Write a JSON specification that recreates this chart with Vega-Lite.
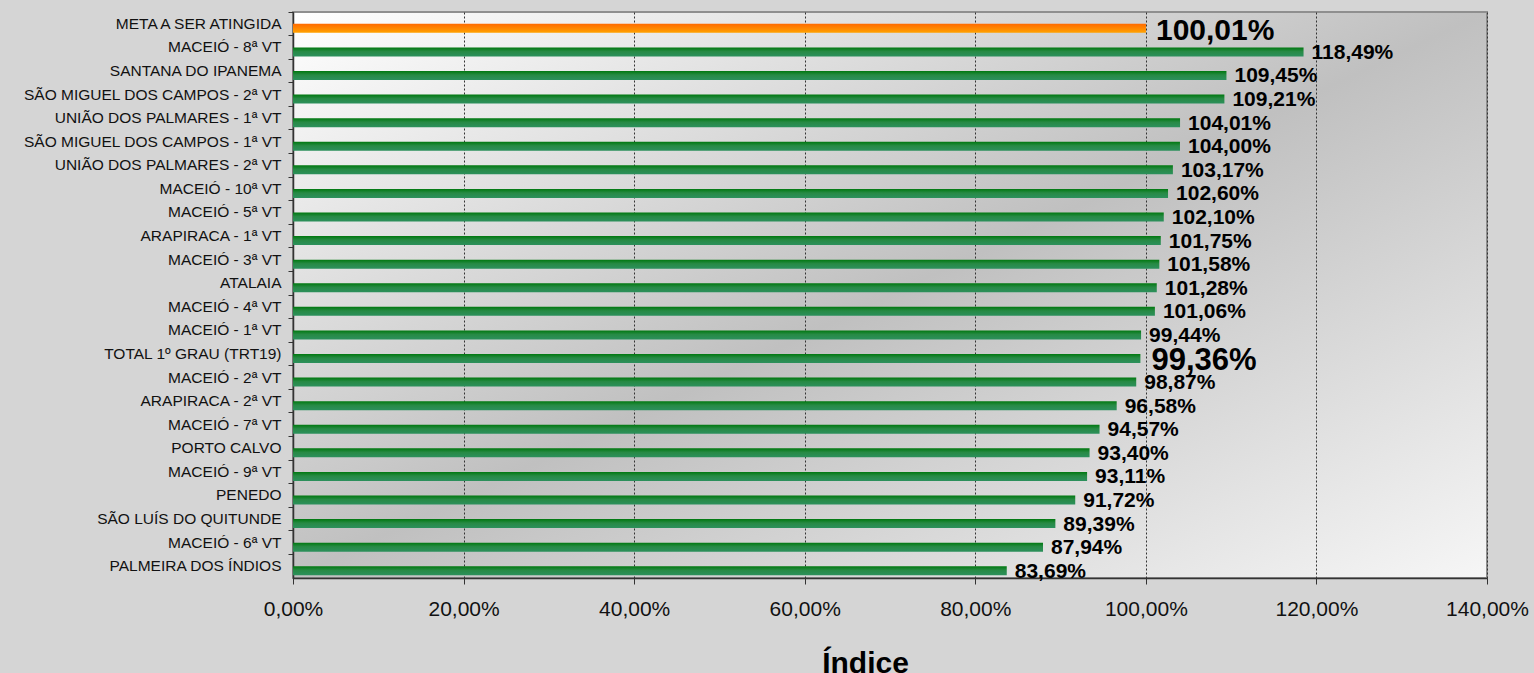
{
  "$schema": "https://vega.github.io/schema/vega-lite/v6.json",
  "autosize": {"type": "none"},
  "width": 1194,
  "height": 566,
  "padding": {"left": 293, "top": 12, "right": 47, "bottom": 95},
  "background": "#d5d5d5",
  "config": {
    "locale": {"number": {"decimal": ",", "thousands": ".", "grouping": [3], "currency": ["R$", ""]}},
    "font": "Liberation Sans",
    "view": {
      "fill": {"gradient": "linear", "x1": 0, "y1": 0, "x2": 1, "y2": 1,
        "stops": [{"offset": 0, "color": "#ffffff"}, {"offset": 0.5, "color": "#c0c0c0"}, {"offset": 1, "color": "#f6f6f6"}]},
      "stroke": "#8f8f8f",
      "strokeWidth": 2
    }
  },
  "data": {"values": [
    {"unidade": "META A SER ATINGIDA", "indice": 1.0001, "tipo": "meta"},
    {"unidade": "MACEIÓ - 8ª VT", "indice": 1.1849, "tipo": "vara"},
    {"unidade": "SANTANA DO IPANEMA", "indice": 1.0945, "tipo": "vara"},
    {"unidade": "SÃO MIGUEL DOS CAMPOS - 2ª VT", "indice": 1.0921, "tipo": "vara"},
    {"unidade": "UNIÃO DOS PALMARES - 1ª VT", "indice": 1.0401, "tipo": "vara"},
    {"unidade": "SÃO MIGUEL DOS CAMPOS - 1ª VT", "indice": 1.0400, "tipo": "vara"},
    {"unidade": "UNIÃO DOS PALMARES - 2ª VT", "indice": 1.0317, "tipo": "vara"},
    {"unidade": "MACEIÓ - 10ª VT", "indice": 1.0260, "tipo": "vara"},
    {"unidade": "MACEIÓ - 5ª VT", "indice": 1.0210, "tipo": "vara"},
    {"unidade": "ARAPIRACA - 1ª VT", "indice": 1.0175, "tipo": "vara"},
    {"unidade": "MACEIÓ - 3ª VT", "indice": 1.0158, "tipo": "vara"},
    {"unidade": "ATALAIA", "indice": 1.0128, "tipo": "vara"},
    {"unidade": "MACEIÓ - 4ª VT", "indice": 1.0106, "tipo": "vara"},
    {"unidade": "MACEIÓ - 1ª VT", "indice": 0.9944, "tipo": "vara"},
    {"unidade": "TOTAL 1º GRAU (TRT19)", "indice": 0.9936, "tipo": "total"},
    {"unidade": "MACEIÓ - 2ª VT", "indice": 0.9887, "tipo": "vara"},
    {"unidade": "ARAPIRACA - 2ª VT", "indice": 0.9658, "tipo": "vara"},
    {"unidade": "MACEIÓ - 7ª VT", "indice": 0.9457, "tipo": "vara"},
    {"unidade": "PORTO CALVO", "indice": 0.9340, "tipo": "vara"},
    {"unidade": "MACEIÓ - 9ª VT", "indice": 0.9311, "tipo": "vara"},
    {"unidade": "PENEDO", "indice": 0.9172, "tipo": "vara"},
    {"unidade": "SÃO LUÍS DO QUITUNDE", "indice": 0.8939, "tipo": "vara"},
    {"unidade": "MACEIÓ - 6ª VT", "indice": 0.8794, "tipo": "vara"},
    {"unidade": "PALMEIRA DOS ÍNDIOS", "indice": 0.8369, "tipo": "vara"}
  ]},
  "encoding": {
    "y": {
      "field": "unidade", "type": "nominal", "sort": null,
      "scale": {"paddingInner": 0, "paddingOuter": 0},
      "axis": {
        "title": null, "grid": false, "bandPosition": 0,
        "domainColor": "#333333", "domainWidth": 1.5, "tickColor": "#333333", "tickSize": 5,
        "labelFontSize": 15.5, "labelColor": "#111111", "labelPadding": 7, "labelLimit": 400
      }
    },
    "x": {
      "field": "indice", "type": "quantitative",
      "scale": {"domain": [0, 1.4], "nice": false},
      "axis": {
        "values": [0, 0.2, 0.4, 0.6, 0.8, 1.0, 1.2, 1.4], "format": ".2%", "labelFlush": false,
        "grid": true, "gridColor": "#333333", "gridDash": [2, 2], "gridWidth": 1,
        "domainColor": "#333333", "domainWidth": 1.5, "tickColor": "#333333", "tickSize": 6,
        "labelFontSize": 21, "labelColor": "#111111", "labelPadding": 14,
        "title": "Índice", "titleFontSize": 30, "titleFontWeight": "bold", "titleColor": "#000000",
        "titleBaseline": "alphabetic", "titleX": 572, "titleY": 94
      }
    }
  },
  "layer": [
    {
      "transform": [{"filter": "datum.tipo == 'meta'"}],
      "mark": {"type": "bar", "size": 9, "yOffset": 4.5,
        "fill": {"gradient": "linear", "x1": 0, "y1": 0, "x2": 0, "y2": 1,
          "stops": [{"offset": 0, "color": "#ff6a00"}, {"offset": 1, "color": "#ffa200"}]}}
    },
    {
      "transform": [{"filter": "datum.tipo != 'meta'"}],
      "mark": {"type": "bar", "size": 9, "yOffset": 4.5,
        "fill": {"gradient": "linear", "x1": 0, "y1": 0, "x2": 0, "y2": 1,
          "stops": [{"offset": 0, "color": "#00780f"}, {"offset": 0.45, "color": "#278a45"}, {"offset": 1, "color": "#2c905c"}]}}
    },
    {
      "transform": [{"filter": "datum.tipo == 'vara'"}],
      "mark": {"type": "text", "align": "left", "baseline": "alphabetic", "dx": 8, "dy": 11.5,
        "fontSize": 21, "fontWeight": "bold", "color": "#000000"},
      "encoding": {"text": {"field": "indice", "type": "quantitative", "format": ".2%"}}
    },
    {
      "transform": [{"filter": "datum.tipo == 'meta'"}],
      "mark": {"type": "text", "align": "left", "baseline": "alphabetic", "dx": 10, "dy": 16,
        "fontSize": 30, "fontWeight": "bold", "color": "#000000"},
      "encoding": {"text": {"field": "indice", "type": "quantitative", "format": ".2%"}}
    },
    {
      "transform": [{"filter": "datum.tipo == 'total'"}],
      "mark": {"type": "text", "align": "left", "baseline": "alphabetic", "dx": 11, "dy": 16,
        "fontSize": 31, "fontWeight": "bold", "color": "#000000"},
      "encoding": {"text": {"field": "indice", "type": "quantitative", "format": ".2%"}}
    }
  ]
}
